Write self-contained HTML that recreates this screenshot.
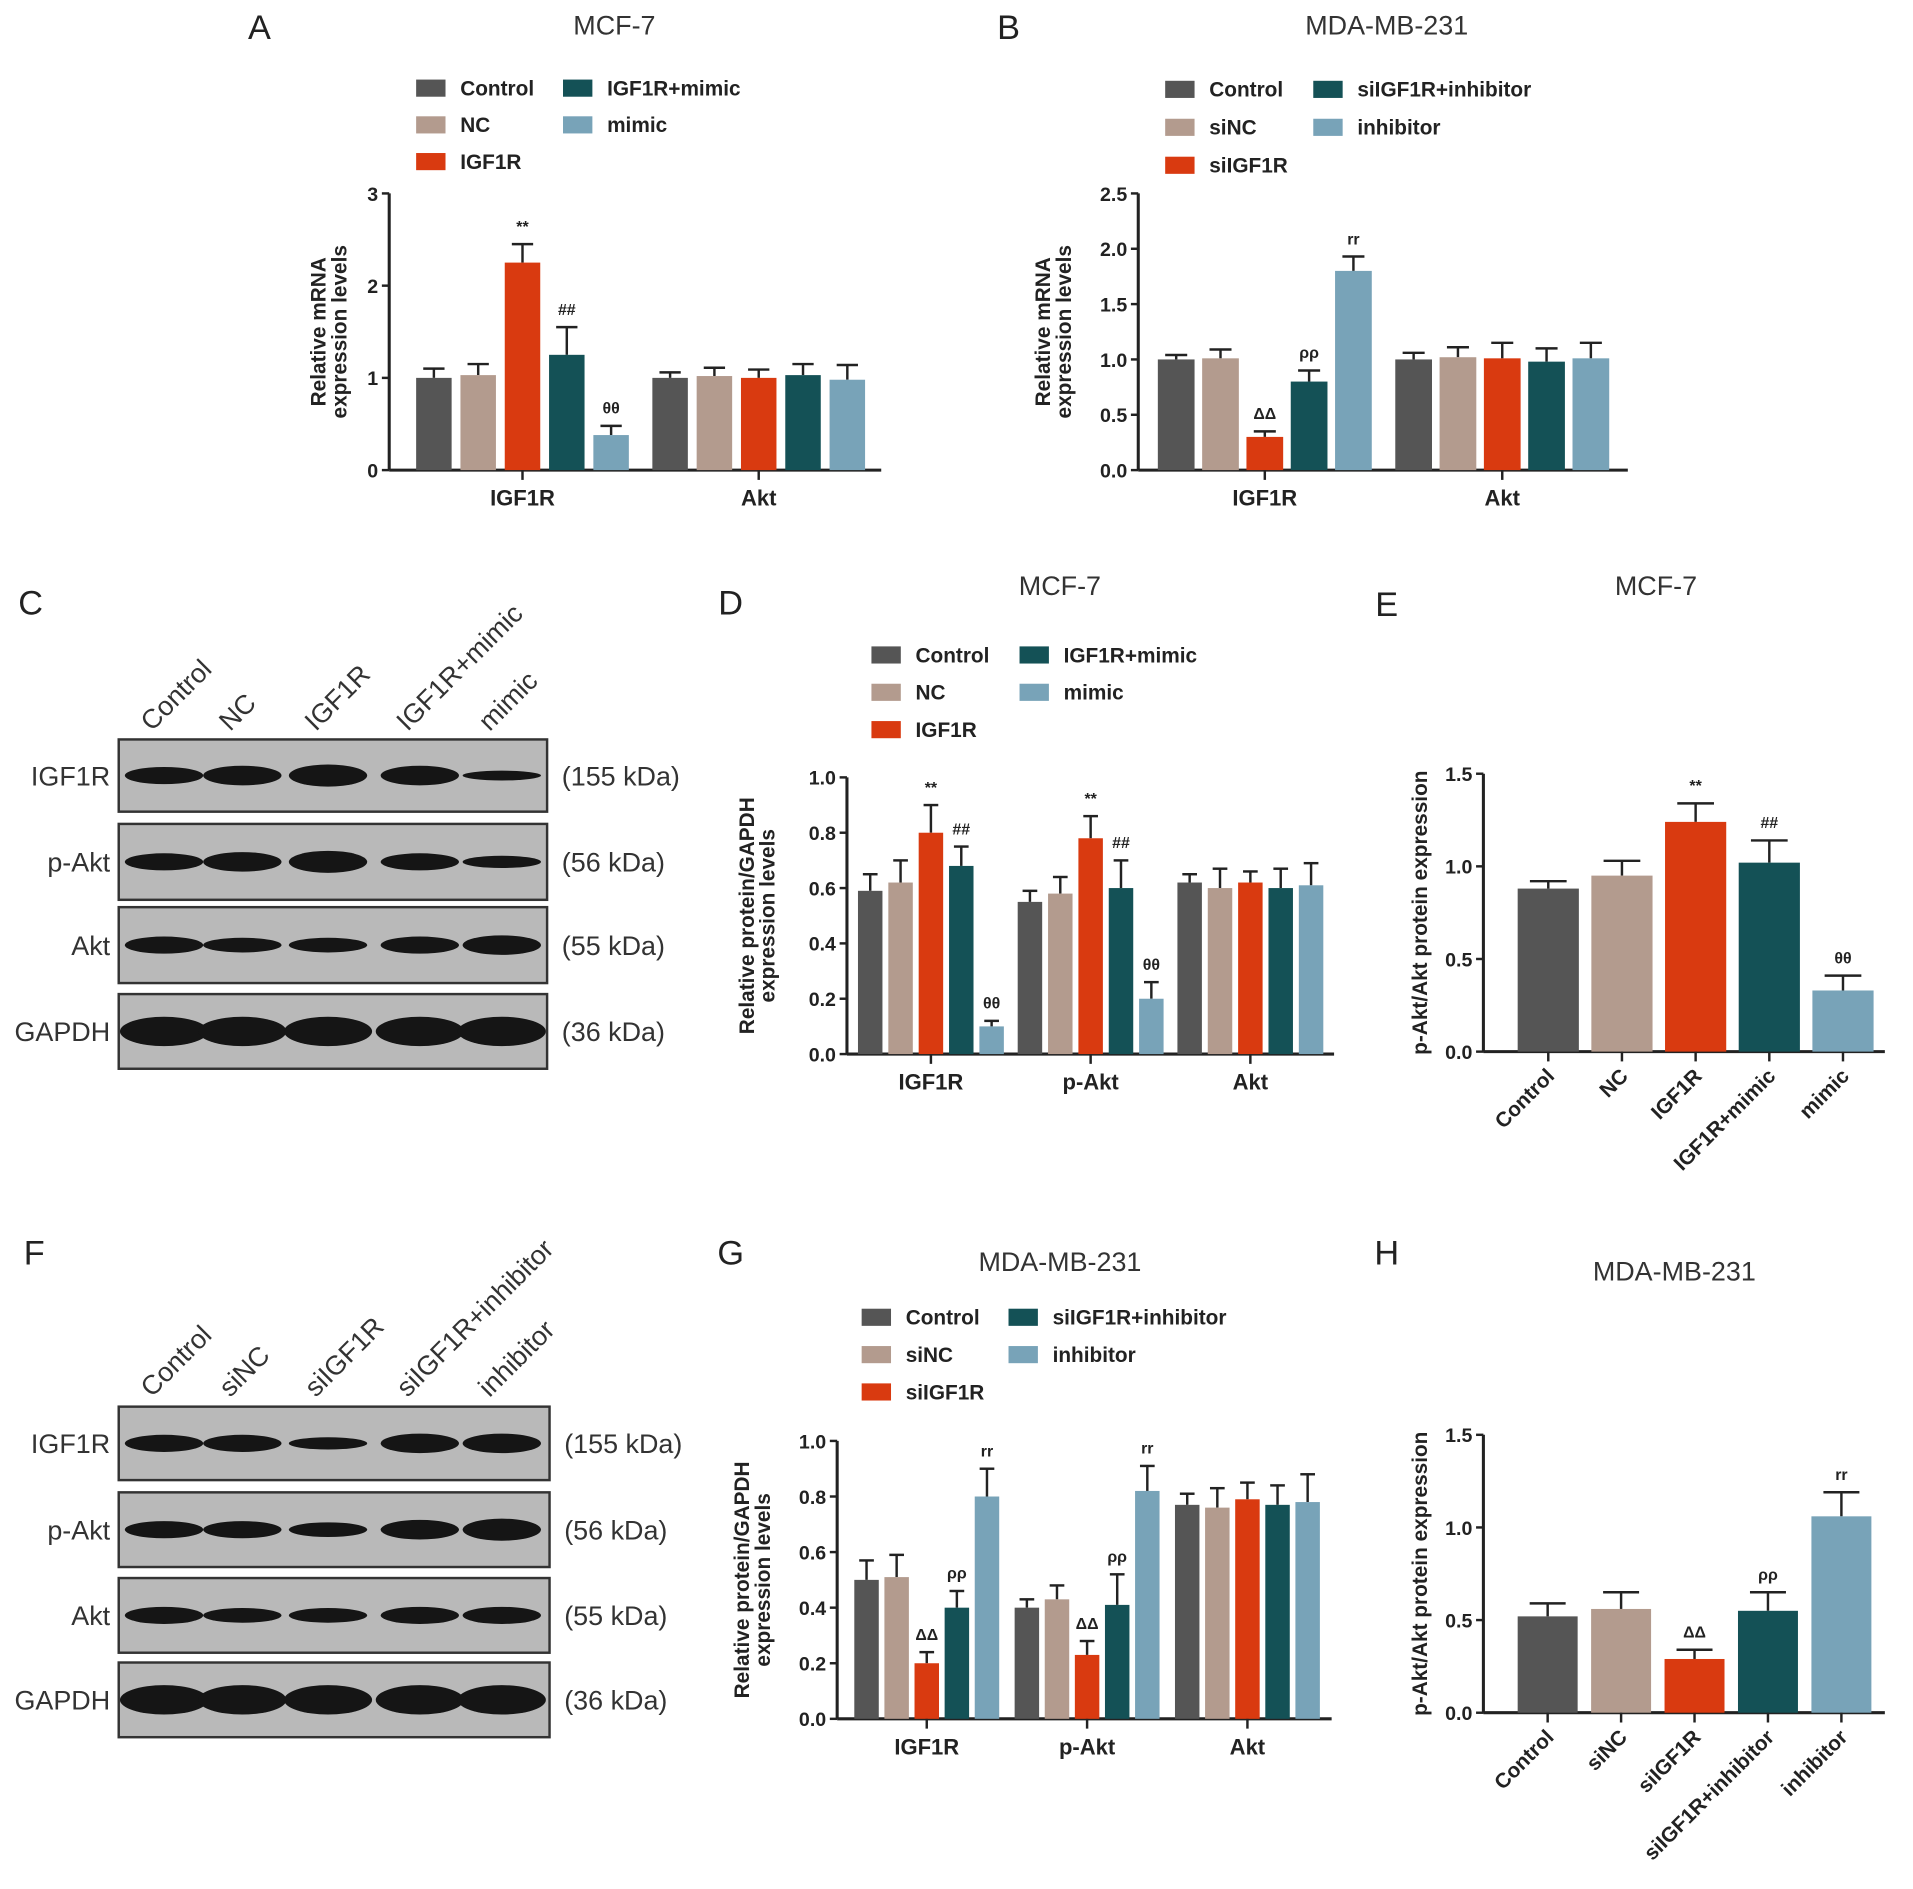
<!DOCTYPE html>
<html><head><meta charset="utf-8"><style>
html,body{margin:0;padding:0;background:#fff;}
svg{display:block;}
text{font-family:"Liberation Sans",Arial,sans-serif;}
</style></head><body>
<svg id="fig" width="1913" height="1889" viewBox="0 0 1563 1543" preserveAspectRatio="none" xmlns="http://www.w3.org/2000/svg"></svg>
<script>
// ---- data ----
const colors = ["#555555","#b39b8e","#d93a10","#145156","#78a3b8"];
const legendA = ["Control","NC","IGF1R","IGF1R+mimic","mimic"];
const legendB = ["Control","siNC","siIGF1R","siIGF1R+inhibitor","inhibitor"];
const catsAB = ["IGF1R","Akt"];
const catsDG = ["IGF1R","p-Akt","Akt"];
const valsA = [[1.0,1.03,2.25,1.25,0.38],[1.0,1.02,1.0,1.03,0.98]];
const errsA = [[0.1,0.12,0.2,0.3,0.1],[0.06,0.09,0.09,0.12,0.16]];
const marksA = [["","","**","##","θθ"],["","","","",""]];
const valsB = [[1.0,1.01,0.3,0.8,1.8],[1.0,1.02,1.01,0.98,1.01]];
const errsB = [[0.04,0.08,0.05,0.1,0.13],[0.06,0.09,0.14,0.12,0.14]];
const marksB = [["","","ΔΔ","ρρ","rr"],["","","","",""]];
const valsD = [[0.59,0.62,0.80,0.68,0.10],[0.55,0.58,0.78,0.60,0.20],[0.62,0.60,0.62,0.60,0.61]];
const errsD = [[0.06,0.08,0.1,0.07,0.02],[0.04,0.06,0.08,0.1,0.06],[0.03,0.07,0.04,0.07,0.08]];
const marksD = [["","","**","##","θθ"],["","","**","##","θθ"],["","","","",""]];
const valsG = [[0.50,0.51,0.20,0.40,0.80],[0.40,0.43,0.23,0.41,0.82],[0.77,0.76,0.79,0.77,0.78]];
const errsG = [[0.07,0.08,0.04,0.06,0.1],[0.03,0.05,0.05,0.11,0.09],[0.04,0.07,0.06,0.07,0.1]];
const marksG = [["","","ΔΔ","ρρ","rr"],["","","ΔΔ","ρρ","rr"],["","","","",""]];
const valsE = [0.88,0.95,1.24,1.02,0.33];
const errsE = [0.04,0.08,0.1,0.12,0.08];
const marksE = ["","","**","##","θθ"];
const valsH = [0.52,0.56,0.29,0.55,1.06];
const errsH = [0.07,0.09,0.05,0.1,0.13];
const marksH = ["","","ΔΔ","ρρ","rr"];
const ticksA = ["0","1","2","3"];
const ticksB = ["0.0","0.5","1.0","1.5","2.0","2.5"];
const ticksD = ["0.0","0.2","0.4","0.6","0.8","1.0"];
const ticksE = ["0.0","0.5","1.0","1.5"];

const svg = document.getElementById('fig');
const NS = "http://www.w3.org/2000/svg";
function el(tag, attrs, parent, txt){
  const e = document.createElementNS(NS, tag);
  for (const k in attrs) e.setAttribute(k, attrs[k]);
  if (txt !== undefined) e.textContent = txt;
  (parent || svg).appendChild(e);
  return e;
}
function txt(x,y,s,size,opts,parent){
  const o = Object.assign({x:x,y:y,'font-size':size,fill:'#222'},opts||{});
  const t = el('text',o,parent,s);
  
  
  return t;
}

function panelLetter(l,x,y){ const t=txt(x,y,l,28,{'text-anchor':'middle'});  }
function title(s,x,y){ const t=txt(x,y,s,22,{'text-anchor':'middle',fill:'#333'});  }

function legend(names,x1,x2,y0,dy){
  const g=el('g',{});
  
  
  const pos=[[x1,0],[x1,1],[x1,2],[x2,0],[x2,1]];
  names.forEach((n,i)=>{
    const [x,r]=pos[i]; const y=y0+r*dy;
    const it=el('g',{},g);
    
    
    el('rect',{x:x,y:y-7,width:24,height:14,fill:colors[i]},it);
    txt(x+36,y+6,n,17,{'font-weight':'bold'},it);
  });
}

function axis(ax,ytop,y0,xend,maxV,ticks,ytitle,ytx){
  const g=el('g',{});
  
  
  el('line',{x1:ax,y1:ytop,x2:ax,y2:y0,stroke:'#222','stroke-width':2.5},g);
  el('line',{x1:ax,y1:y0,x2:xend,y2:y0,stroke:'#222','stroke-width':2.5},g);
  ticks.forEach((t,i)=>{
    const v=parseFloat(t); const y=y0-(y0-ytop)*v/maxV;
    el('line',{x1:ax-6,y1:y,x2:ax,y2:y,stroke:'#222','stroke-width':2},g);
    const tt=txt(ax-9,y+6,t,16,{'text-anchor':'end','font-weight':'bold'},g);
    
  });
  const cy=(ytop+y0)/2;
  ytitle.forEach((l,i)=>{
    const x=ytx+i*17;
    const t=txt(x,cy,l,17,{'text-anchor':'middle','font-weight':'bold',transform:`rotate(-90 ${x} ${cy})`},g);
    
  });
  return v=>y0-(y0-ytop)*v/maxV;
}

function bar(x,w,v,e,mark,yf,y0,color,name){
  const g=el('g',{});
  
  
  const y=yf(v), ye=yf(v+e), cx=x+w/2;
  el('line',{x1:cx,y1:y,x2:cx,y2:ye,stroke:'#222','stroke-width':2},g);
  el('line',{x1:cx-w*0.3,y1:ye,x2:cx+w*0.3,y2:ye,stroke:'#222','stroke-width':2},g);
  el('rect',{x:x,y:y,width:w,height:y0-y,fill:color},g);
  if(mark){ const t=txt(cx,ye-10,mark,13,{'text-anchor':'middle','font-weight':'bold'},g);  }
}

function grouped(cfg){
  const yf=axis(cfg.ax,cfg.ytop,cfg.y0,cfg.xend,cfg.max,cfg.ticks,cfg.ytitle,cfg.ytx);
  cfg.cats.forEach((c,gi)=>{
    const start=cfg.gstart+gi*cfg.gstep;
    for(let i=0;i<5;i++){
      bar(start+i*cfg.step,cfg.w,cfg.vals[gi][i],cfg.errs[gi][i],cfg.marks[gi][i],yf,cfg.y0,colors[i],'bar-'+c.toLowerCase()+'-'+i);
    }
    const cx=start+2*cfg.step+cfg.w/2;
    el('line',{x1:cx,y1:cfg.y0,x2:cx,y2:cfg.y0+8,stroke:'#222','stroke-width':2});
    const t=txt(cx,cfg.y0+29,c,18,{'text-anchor':'middle','font-weight':'bold'});
    
  });
}

function single(cfg){
  const yf=axis(cfg.ax,cfg.ytop,cfg.y0,cfg.xend,cfg.max,cfg.ticks,cfg.ytitle,cfg.ytx);
  for(let i=0;i<5;i++){
    const x=cfg.start+i*cfg.step;
    bar(x,cfg.w,cfg.vals[i],cfg.errs[i],cfg.marks[i],yf,cfg.y0,colors[i],'bar-'+i);
    const cx=x+cfg.w/2;
    el('line',{x1:cx,y1:cfg.y0,x2:cx,y2:cfg.y0+8,stroke:'#222','stroke-width':2});
    const t=txt(cx+6,cfg.y0+21,cfg.names[i],17,{'text-anchor':'end','font-weight':'bold',transform:`rotate(-45 ${cx+6} ${cfg.y0+21})`});
    
  }
}

function blot(lanes,x0,x1,boxes,labels,kda,intens,labelBase){
  const centers=[134,198,268,343,410];
  lanes.forEach((l,i)=>{
    const cx=centers[i]; const by=labelBase;
    const t=txt(cx-10,by,l,22,{transform:`rotate(-45 ${cx-10} ${by})`,fill:'#333'});
    
  });
  boxes.forEach((b,r)=>{
    const g=el('g',{});
    
    
    el('rect',{x:x0,y:b[0],width:x1-x0,height:b[1]-b[0],fill:'#b9b9b9',stroke:'#333','stroke-width':2},g);
    const cy=(b[0]+b[1])/2;
    centers.forEach((c,i)=>{
      const h=intens[r][i];
      el('ellipse',{cx:c,cy:cy,rx:(r==3?36:32),ry:h,fill:'#151515'},g);
    });
    txt(x0-7,cy+8,labels[r],22,{'text-anchor':'end',fill:'#333'},g);
    txt(x1+12,cy+8,kda[r],22,{fill:'#333'},g);
  });
}

// Panel A
panelLetter('A',212,32); title('MCF-7',502,28);
legend(legendA,340,460,72,30);
grouped({ax:318,ytop:158,y0:384,xend:720,max:3,ticks:ticksA,ytitle:["Relative mRNA","expression levels"],ytx:266,
  cats:catsAB,vals:valsA,errs:errsA,marks:marksA,gstart:340,gstep:193,step:36.2,w:29});
// Panel B
panelLetter('B',824,32); title('MDA-MB-231',1133,28);
legend(legendB,952,1073,73,31);
grouped({ax:930,ytop:158,y0:384,xend:1330,max:2.5,ticks:ticksB,ytitle:["Relative mRNA","expression levels"],ytx:858,
  cats:catsAB,vals:valsB,errs:errsB,marks:marksB,gstart:946,gstep:194,step:36.2,w:30});
// Panel C
panelLetter('C',25,502);
blot(legendA,97,447,[[604,663],[673,735],[741,803],[812,873]],["IGF1R","p-Akt","Akt","GAPDH"],["(155 kDa)","(56 kDa)","(55 kDa)","(36 kDa)"],
  [[7,8,9,8,4],[7,8,9,7,5],[7,6,6,7,8],[12,12,12,12,12]],598);
// Panel D
panelLetter('D',597,502); title('MCF-7',866,486);
legend(legendA,712,833,535,30.5);
grouped({ax:692,ytop:635,y0:861,xend:1090,max:1,ticks:ticksD,ytitle:["Relative protein/GAPDH","expression levels"],ytx:616,
  cats:catsDG,vals:valsD,errs:errsD,marks:marksD,gstart:701,gstep:130.5,step:24.8,w:20});
// Panel E
panelLetter('E',1133,503); title('MCF-7',1353,486);
single({ax:1212,ytop:632,y0:859,xend:1540,max:1.5,ticks:ticksE,ytitle:["p-Akt/Akt  protein expression"],ytx:1166,
  vals:valsE,errs:errsE,marks:marksE,names:legendA,start:1240,step:60.2,w:50});
// Panel F
panelLetter('F',28,1033);
blot(legendB,97,449,[[1149,1209],[1219,1280],[1289,1350],[1358,1419]],["IGF1R","p-Akt","Akt","GAPDH"],["(155 kDa)","(56 kDa)","(55 kDa)","(36 kDa)"],
  [[7,7,5,8,8],[7,7,6,8,9],[7,6,6,7,7],[12,12,12,12,12]],1142);
// Panel G
panelLetter('G',597,1033); title('MDA-MB-231',866,1038);
legend(legendB,704,824,1076,30.5);
grouped({ax:684,ytop:1177,y0:1404,xend:1088,max:1,ticks:ticksD,ytitle:["Relative protein/GAPDH","expression levels"],ytx:612,
  cats:catsDG,vals:valsG,errs:errsG,marks:marksG,gstart:698,gstep:131,step:24.6,w:20});
// Panel H
panelLetter('H',1133,1033); title('MDA-MB-231',1368,1046);
single({ax:1212,ytop:1172,y0:1399,xend:1540,max:1.5,ticks:ticksE,ytitle:["p-Akt/Akt  protein expression"],ytx:1166,
  vals:valsH,errs:errsH,marks:marksH,names:legendB,start:1240,step:60,w:49});
</script>
</body></html>
